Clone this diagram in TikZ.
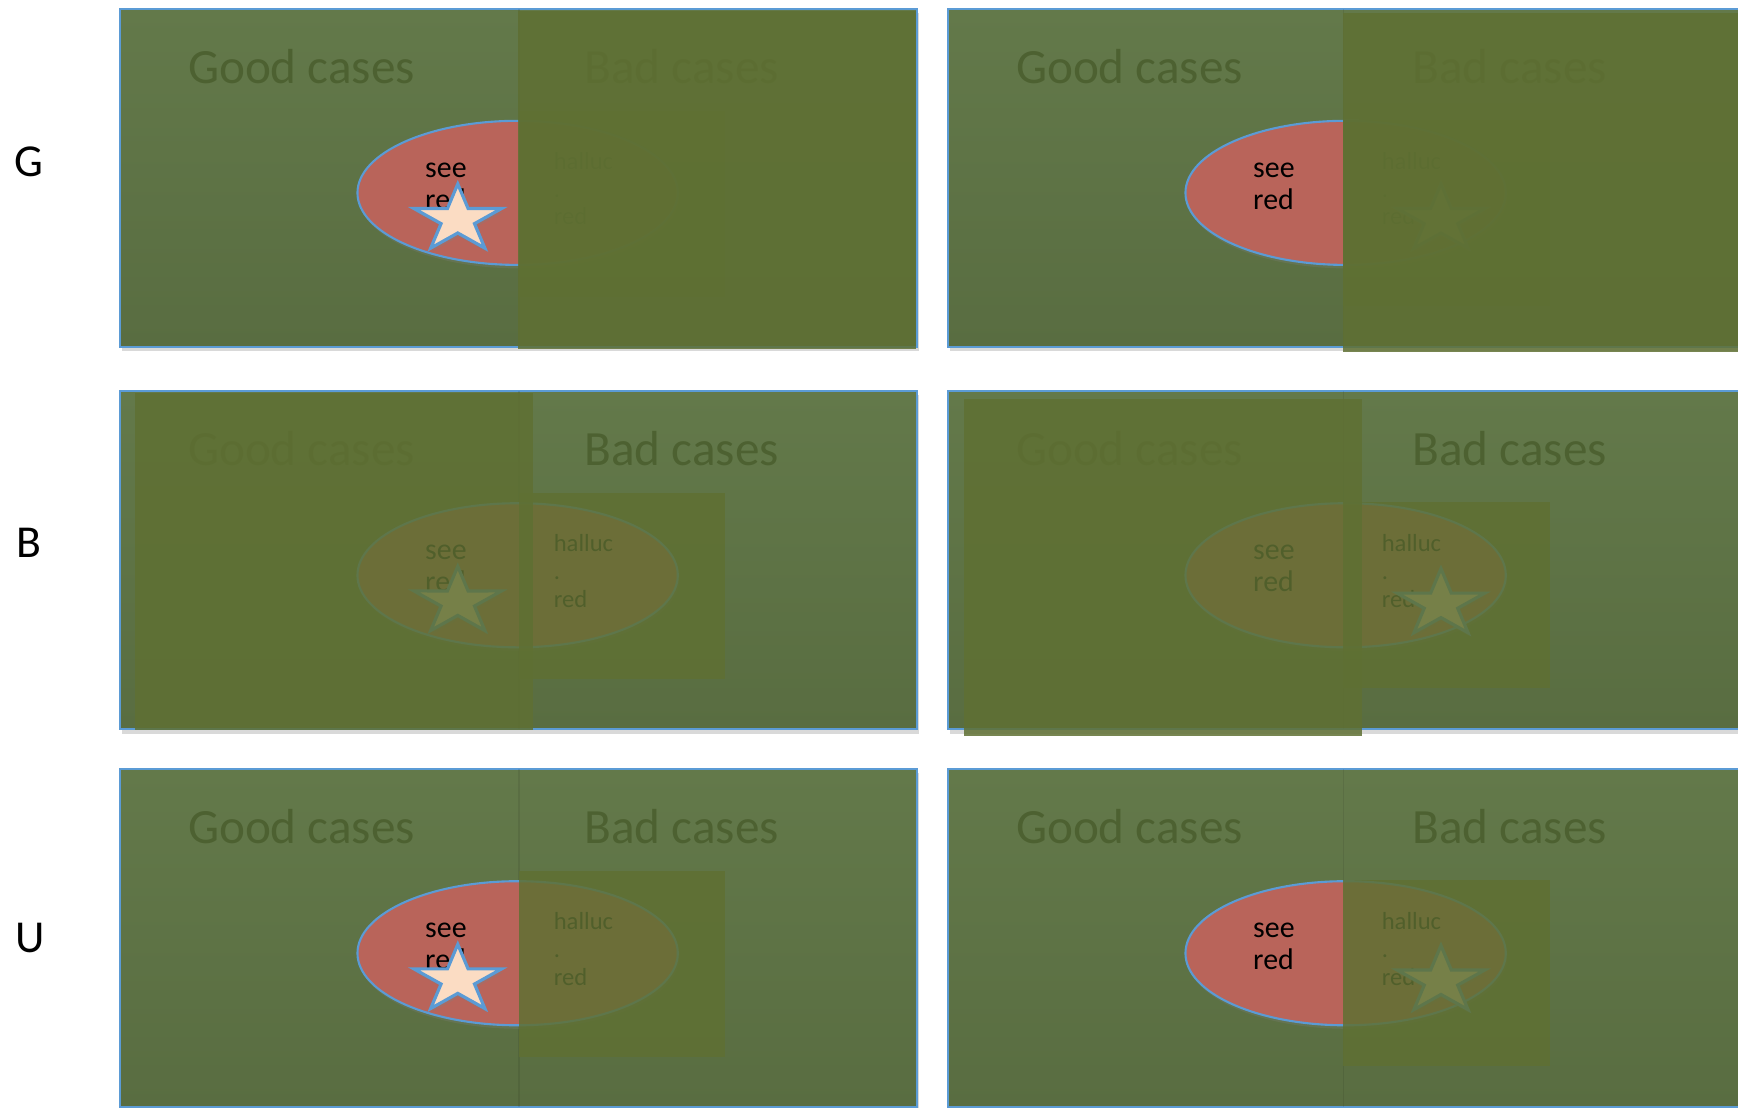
\documentclass[tikz,border=0pt]{standalone}
\usepackage{fontspec}
\setmainfont{Carlito}
\usepackage{xcolor}
\usetikzlibrary{shadows, positioning}
\definecolor{panelTop}{HTML}{63794A}
\definecolor{panelBot}{HTML}{596D41}
\definecolor{veilOlive}{HTML}{5F7033}
\definecolor{edgeBlue}{HTML}{5B9BD5}
\definecolor{bubbleRed}{HTML}{B9645A}
\definecolor{starPeach}{HTML}{FBDCC3}
\definecolor{titleGreen}{HTML}{4D6131}
\tikzset{
  % Panel styles
  panel/.style={draw=edgeBlue, line width=0.6pt, top color=panelTop, bottom color=panelBot, drop shadow={shadow xshift=0.6pt, shadow yshift=-1.2pt, opacity=0.3}},
  veil/.style={fill=veilOlive, fill opacity=0.85},
  splitline/.style={draw=black, opacity=0.08, line width=0.5pt},
  % Bubble and star
  bubble/.style={draw=edgeBlue, line width=0.6pt, fill=bubbleRed, drop shadow={shadow xshift=0.4pt, shadow yshift=-1pt, opacity=0.25}},
  starshape/.style={draw=edgeBlue, line width=0.9pt, fill=starPeach, line join=miter, drop shadow={shadow xshift=0.4pt, shadow yshift=-1pt, opacity=0.3}},
  % Text styles
  casetitle/.style={font=\fontsize{14}{16}\selectfont, text=titleGreen, anchor=base, inner sep=0pt},
  seetext/.style={font=\fontsize{8.5}{9}\selectfont, anchor=base west, inner sep=0pt},
  hallutext/.style={font=\fontsize{7}{8}\selectfont, anchor=base west, inner sep=0pt},
  rowlabel/.style={font=\fontsize{13}{15}\selectfont, anchor=base, inner sep=0pt}
}

\begin{document}
\begin{tikzpicture}[x=0.011084cm, y=0.011084cm]
  \useasboundingbox (0,0) rectangle (1568,-999);
  \clip (0,0) rectangle (1568,-999);

  % Row labels
  \node[rowlabel] (labG) at (26,-159) {G};
  \node[rowlabel] (labB) at (26,-503) {B};
  \node[rowlabel] (labU) at (27,-859) {U};

  % Base panels (offset, star centre, text box left and top)
  \foreach \px/\py/\sx/\sy/\tx/\ty [count=\i] in {108/8/305/190/360/92, 855/8/445/190/357/100, 108/353/305/190/360/92, 855/353/445/192/357/100, 108/694/305/190/360/92, 855/694/445/191/357/100} {
    \begin{scope}[shift={(\px,-\py)}]
      \draw[panel] (0,0) rectangle (719,-305);
      \draw[splitline] (\tx,0) -- (\tx,-305);
      \node[casetitle] (good\i) at (164,-67) {Good cases};
      \node[casetitle] (bad\i) at (507,-67) {Bad cases};
      \draw[bubble] (359,-166) ellipse [x radius=144.5, y radius=65];
      \node[seetext] (see\i) at (275,-152) {see};
      \node[seetext] (seered\i) at (275,-181) {red};
      \node[hallutext] (hal\i) at (391,-145) {halluc};
      \node[hallutext] (dot\i) at (391,-170) {.};
      \node[hallutext] (halred\i) at (391,-195) {red};
      \begin{scope}[shift={(\sx,-\sy)}, xscale=1.3]
        \draw[starshape] (90:32) \foreach \k in {1,...,9} {-- ({90+36*\k}:{ifthenelse(isodd(\k),12.2,32)})} -- cycle;
      \end{scope}
      \fill[veil] (\tx,-\ty) rectangle (\tx+186,-\ty-168);
    \end{scope}
  }

  % Row G: bad half veiled
  \fill[veil] (467,-10) rectangle (826,-315);
  \fill[veil] (1212,-12) rectangle (1575,-318);

  % Row B: good half veiled
  \fill[veil] (122,-355) rectangle (481,-659);
  \fill[veil] (870,-360) rectangle (1229,-664);
\end{tikzpicture}
\end{document}
